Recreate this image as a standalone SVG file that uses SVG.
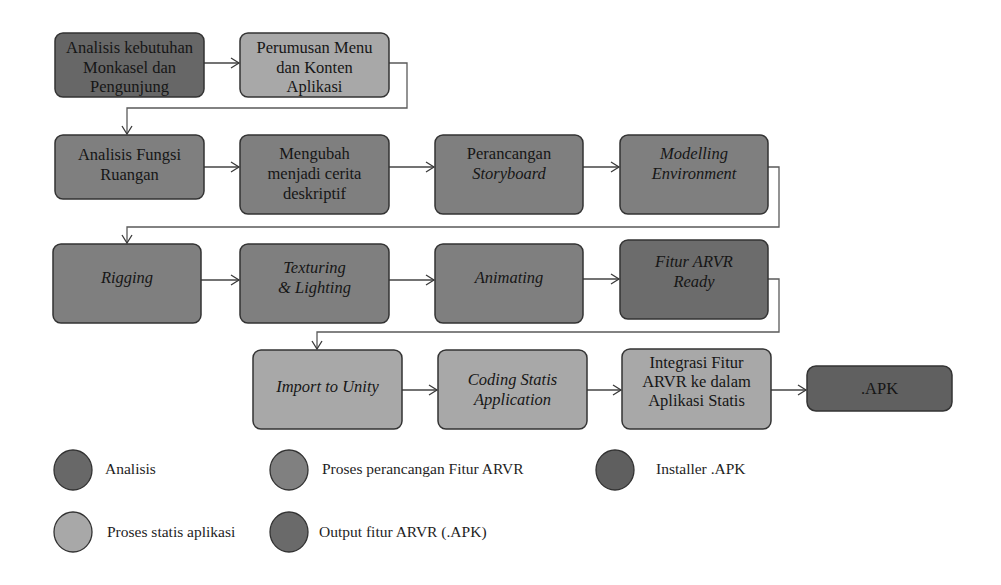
<svg xmlns="http://www.w3.org/2000/svg" width="1001" height="585" viewBox="0 0 1001 585">
<defs>
<marker id="ah" markerWidth="12" markerHeight="12" refX="9" refY="6" orient="auto" markerUnits="userSpaceOnUse">
<path d="M1,1 L9,6 L1,11" fill="none" stroke="#3a3a3a" stroke-width="1.3"/>
</marker>
</defs>
<style>
.box{stroke:#333;stroke-width:1.5}
.dark{fill:#676767}
.mid{fill:#7f7f7f}
.ready{fill:#6c6c6c}
.light{fill:#a8a8a8}
.apk{fill:#606060}
.btxt{font-family:"Liberation Serif","Times New Roman",serif;font-size:16.5px;fill:#161616;text-anchor:middle}
.ital{font-style:italic}
.legtxt{font-family:"Liberation Serif","Times New Roman",serif;font-size:15.5px;fill:#1e1e1e}
.conn{fill:none;stroke:#444;stroke-width:1.3}
.ret{fill:none;stroke:#5a5a5a;stroke-width:1.3}
.leg{stroke:#333;stroke-width:1.3}
</style>
<rect width="1001" height="585" fill="#fff"/>
<g id="connectors">
<line class="conn" x1="204" y1="63" x2="239" y2="63" marker-end="url(#ah)"/>
<polyline class="ret" points="389,63 407,63 407,108 127,108 127,134" marker-end="url(#ah)"/>
<line class="conn" x1="204" y1="167" x2="239" y2="167" marker-end="url(#ah)"/>
<line class="conn" x1="389" y1="167" x2="434" y2="167" marker-end="url(#ah)"/>
<line class="conn" x1="583" y1="167" x2="619" y2="167" marker-end="url(#ah)"/>
<polyline class="ret" points="768,167 779,167 779,227 127,227 127,243" marker-end="url(#ah)"/>
<line class="conn" x1="201" y1="280" x2="239" y2="280" marker-end="url(#ah)"/>
<line class="conn" x1="389" y1="280" x2="434" y2="280" marker-end="url(#ah)"/>
<line class="conn" x1="583" y1="279" x2="619" y2="279" marker-end="url(#ah)"/>
<polyline class="ret" points="768,279 779,279 779,332 317,332 317,349" marker-end="url(#ah)"/>
<line class="conn" x1="402" y1="390" x2="437" y2="390" marker-end="url(#ah)"/>
<line class="conn" x1="587" y1="390" x2="621" y2="390" marker-end="url(#ah)"/>
<line class="conn" x1="771" y1="390" x2="806" y2="390" marker-end="url(#ah)"/>
</g>
<g id="n1"><rect class="box dark" x="55" y="33" width="149" height="64" rx="8"/>
<text class="btxt" x="129.5" y="53">Analisis kebutuhan</text><text class="btxt" x="129.5" y="73">Monkasel dan</text><text class="btxt" x="129.5" y="92">Pengunjung</text></g>
<g id="n2"><rect class="box light" x="240" y="33" width="149" height="64" rx="8"/>
<text class="btxt" x="314.5" y="53">Perumusan Menu</text><text class="btxt" x="314.5" y="73">dan Konten</text><text class="btxt" x="314.5" y="92">Aplikasi</text></g>
<g id="n3"><rect class="box mid" x="55" y="135" width="149" height="64" rx="8"/>
<text class="btxt" x="129.5" y="160">Analisis Fungsi</text><text class="btxt" x="129.5" y="180">Ruangan</text></g>
<g id="n4"><rect class="box mid" x="240" y="135" width="149" height="79" rx="8"/>
<text class="btxt" x="314.5" y="159">Mengubah</text><text class="btxt" x="314.5" y="179">menjadi cerita</text><text class="btxt" x="314.5" y="199">deskriptif</text></g>
<g id="n5"><rect class="box mid" x="435" y="135" width="148" height="79" rx="8"/>
<text class="btxt" x="509" y="159">Perancangan</text><text class="btxt ital" x="509" y="179">Storyboard</text></g>
<g id="n6"><rect class="box mid" x="620" y="135" width="148" height="79" rx="8"/>
<text class="btxt ital" x="694" y="159">Modelling</text><text class="btxt ital" x="694" y="179">Environment</text></g>
<g id="n7"><rect class="box mid" x="53" y="244" width="148" height="79" rx="8"/>
<text class="btxt ital" x="127" y="283">Rigging</text></g>
<g id="n8"><rect class="box mid" x="240" y="244" width="149" height="79" rx="8"/>
<text class="btxt ital" x="314.5" y="273">Texturing</text><text class="btxt ital" x="314.5" y="293">&amp; Lighting</text></g>
<g id="n9"><rect class="box mid" x="435" y="244" width="148" height="79" rx="8"/>
<text class="btxt ital" x="509" y="283">Animating</text></g>
<g id="n10"><rect class="box ready" x="620" y="240" width="148" height="79" rx="8"/>
<text class="btxt ital" x="694" y="267">Fitur ARVR</text><text class="btxt ital" x="694" y="287">Ready</text></g>
<g id="n11"><rect class="box light" x="253" y="350" width="149" height="79" rx="8"/>
<text class="btxt ital" x="327.5" y="392">Import to Unity</text></g>
<g id="n12"><rect class="box light" x="438" y="350" width="149" height="79" rx="8"/>
<text class="btxt ital" x="512.5" y="385">Coding Statis</text><text class="btxt ital" x="512.5" y="405">Application</text></g>
<g id="n13"><rect class="box light" x="622" y="349" width="149" height="80" rx="8"/>
<text class="btxt" x="696.5" y="368">Integrasi Fitur</text><text class="btxt" x="696.5" y="387">ARVR ke dalam</text><text class="btxt" x="696.5" y="406">Aplikasi Statis</text></g>
<g id="n14"><rect class="box apk" x="807" y="366" width="145" height="45" rx="9"/>
<text class="btxt" x="879.5" y="394">.APK</text></g>
<g id="legend">
<ellipse class="leg" cx="73" cy="470" rx="19" ry="20" fill="#686868"/>
<text class="legtxt" x="105" y="474">Analisis</text>
<ellipse class="leg" cx="289" cy="470" rx="19" ry="20" fill="#808080"/>
<text class="legtxt" x="322" y="474">Proses perancangan Fitur ARVR</text>
<ellipse class="leg" cx="615" cy="470" rx="19" ry="20" fill="#5f5f5f"/>
<text class="legtxt" x="656" y="474">Installer .APK</text>
<ellipse class="leg" cx="73" cy="532" rx="19" ry="20" fill="#a8a8a8"/>
<text class="legtxt" x="107" y="537">Proses statis aplikasi</text>
<ellipse class="leg" cx="289" cy="532" rx="19" ry="20" fill="#6a6a6a"/>
<text class="legtxt" x="319" y="537">Output fitur ARVR (.APK)</text>
</g>
</svg>
